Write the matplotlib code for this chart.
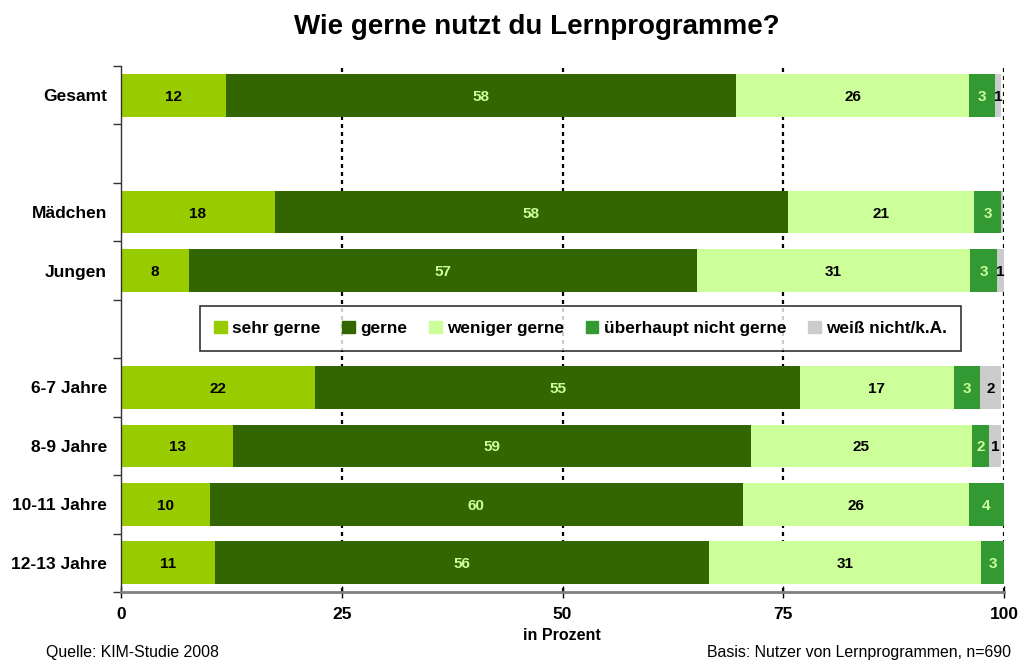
import matplotlib
matplotlib.use("Agg")
import matplotlib.pyplot as plt
import numpy as np

plt.rcParams['font.family'] = ['Liberation Sans', 'DejaVu Sans']

title = "Wie gerne nutzt du Lernprogramme?"
categories = ["Gesamt", "", "Mädchen", "Jungen", "", "6-7 Jahre", "8-9 Jahre", "10-11 Jahre", "12-13 Jahre"]
series = ["sehr gerne", "gerne", "weniger gerne", "überhaupt nicht gerne", "weiß nicht/k.A."]
colors = ["#99CC00", "#336600", "#CCFF99", "#339933", "#CCCCCC"]
label_colors = ["black", "#CCFF99", "black", "#CCFF99", "black"]

# bar widths (percent), None for empty slots
sehr_gerne = [11.9, None, 17.4, 7.7, None, 22.0, 12.7, 10.1, 10.6]
gerne = [57.8, None, 58.1, 57.5, None, 54.9, 58.6, 60.3, 56.0]
weniger_gerne = [26.3, None, 21.1, 31.0, None, 17.4, 25.1, 25.6, 30.8]
ueberhaupt_nicht = [3.0, None, 3.1, 3.0, None, 3.0, 1.9, 4.0, 2.6]
weiss_nicht = [0.7, None, 0.2, 0.8, None, 2.4, 1.4, 0.0, 0.0]

# printed labels
lab_sehr = [12, None, 18, 8, None, 22, 13, 10, 11]
lab_gerne = [58, None, 58, 57, None, 55, 59, 60, 56]
lab_weniger = [26, None, 21, 31, None, 17, 25, 26, 31]
lab_ueber = [3, None, 3, 3, None, 3, 2, 4, 3]
lab_weiss = [1, None, None, 1, None, 2, 1, None, None]

xticks = [0, 25, 50, 75, 100]
xlabel = "in Prozent"
source = "Quelle: KIM-Studie 2008"
basis = "Basis: Nutzer von Lernprogrammen, n=690"

fig = plt.figure(figsize=(10.18, 6.61), dpi=100)
ax = fig.add_axes([121/1018, 1-592/661, (1004-121)/1018, (592-66)/661])

values = [sehr_gerne, gerne, weniger_gerne, ueberhaupt_nicht, weiss_nicht]
labels = [lab_sehr, lab_gerne, lab_weniger, lab_ueber, lab_weiss]

for x in [25, 50, 75, 100]:
    ax.axvline(x, color='black', lw=1.6, ls=(0, (1.8, 1.8)), zorder=1)

handles = []
for si in range(len(series)):
    for ci in range(len(categories)):
        v = values[si][ci]
        if v is None:
            continue
        left = sum(values[k][ci] for k in range(si))
        if v > 0:
            ax.barh(ci, v, left=left, height=0.73, color=colors[si], edgecolor='none', zorder=2)
        lab = labels[si][ci]
        if lab is not None:
            ax.text(left + v/2, ci, str(lab), ha='center', va='center_baseline', fontsize=11,
                    fontweight='bold', color=label_colors[si], zorder=3)
    handles.append(plt.Rectangle((0, 0), 1, 1, color=colors[si]))

ax.set_xlim(0, 100)
ax.set_ylim(len(categories) - 0.5, -0.5)
ax.set_xticks(xticks)
ax.set_xticklabels([str(t) for t in xticks], fontsize=12.5, fontweight='bold')
ax.tick_params(axis='x', direction='inout', length=8, width=1, pad=7, color='black')
ax.set_yticks(range(len(categories)))
ax.set_yticklabels(categories, fontsize=12.5, fontweight='bold')
ax.tick_params(axis='y', which='major', length=0, pad=10)
ax.set_yticks(np.arange(-0.5, len(categories)), minor=True)
ax.tick_params(axis='y', which='minor', length=6, width=1, direction='out', color='#333333')

for s in ['top', 'right']:
    ax.spines[s].set_visible(False)
ax.spines['left'].set_color('#333333')
ax.spines['left'].set_linewidth(1)
ax.spines['bottom'].set_color('#808080')
ax.spines['bottom'].set_linewidth(2)

leg = fig.legend(handles, series, loc='center', bbox_to_anchor=((203+958)/2/1018, 1-328.5/661),
                 ncol=5, frameon=True, fancybox=False, edgecolor='black',
                 prop={'weight': 'bold', 'size': 12.4}, handlelength=0.75, handleheight=0.75,
                 handletextpad=0.3, columnspacing=1.25, borderpad=0.85)
leg.get_frame().set_linewidth(1.2)

fig.text(537/1018, 1-27/661, title, ha='center', va='center', fontsize=20, fontweight='bold')
fig.text(562/1018, 1-636/661, xlabel, ha='center', va='center', fontsize=11.5, fontweight='bold')
fig.text(46/1018, 1-652/661, source, ha='left', va='center', fontsize=11.4)
fig.text(1011/1018, 1-652/661, basis, ha='right', va='center', fontsize=11.4)

fig.savefig("out.png", dpi=100)
